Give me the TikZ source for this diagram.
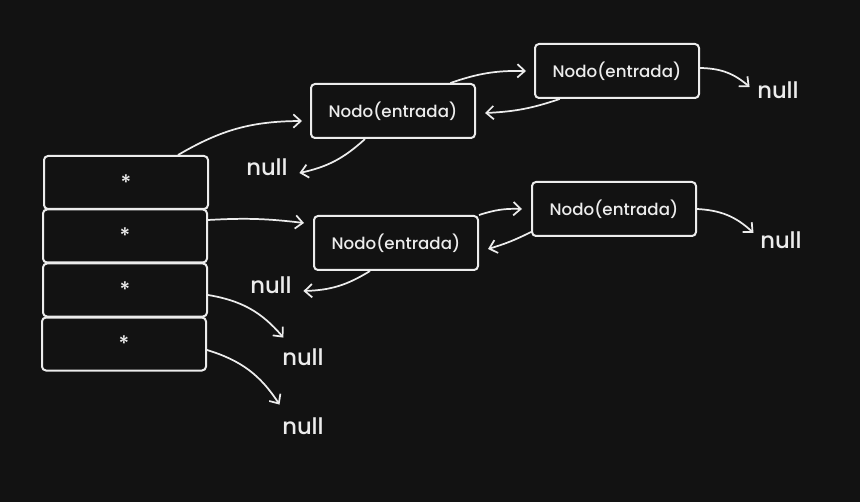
\documentclass[tikz,border=0pt]{standalone}
\usepackage{fontspec}
\setmainfont{Poppins Medium}
\usetikzlibrary{arrows.meta}

\definecolor{board}{HTML}{121212}
\definecolor{chalk}{HTML}{ECECEC}

\tikzset{
	cell/.style={draw=chalk, line width=1.5pt, rounded corners=3pt, minimum width=123pt, minimum height=39.75pt, text=chalk, font=\fontsize{16}{18}\selectfont},
	entry/.style={draw=chalk, line width=1.5pt, rounded corners=3pt, minimum width=123pt, minimum height=40.5pt, text=chalk, font=\fontsize{12.5}{14}\selectfont},
	nullword/.style={text=chalk, inner sep=0pt, font=\fontsize{17}{20}\selectfont},
	link/.style={draw=chalk, line width=1.3pt, -{Straight Barb[length=5.5pt,width=10pt]}},
}

\begin{document}
\begin{tikzpicture}[x=0.75pt, y=-0.75pt]

	% Background
	\fill[board] (0,0) rectangle (860,502);

	%% TABLE
	\foreach \i/\x/\y in {1/126/182.5, 2/125/236, 3/125/290, 4/124/344}
	{
		\node[cell] (c\i) at (\x,\y) {\raisebox{-1.5pt}{*}};
	}

	%% ENTRIES
	% First chain
	\node[entry] (A) at (393,111) {Nodo(entrada)};
	\node[entry] (B) at (617,71) {Nodo(entrada)};
	% Second chain
	\node[entry] (C) at (396,243) {Nodo(entrada)};
	\node[entry] (D) at (614,209) {Nodo(entrada)};

	% Null ends
	\node[nullword] (n1) at (267,167) {null};
	\node[nullword] (n2) at (778,90) {null};
	\node[nullword] (n3) at (271,285) {null};
	\node[nullword] (n4) at (781,240) {null};
	\node[nullword] (n5) at (303,357) {null};
	\node[nullword] (n6) at (303,426) {null};

	%% LINKS
	% First chain
	\draw[link] ([xshift=39pt]c1.north) to[bend left=15] ([xshift=-6pt,yshift=-7.5pt]A.west);
	\draw[link] ([xshift=43pt]A.north) to[bend left=10] ([xshift=-6pt]B.west);
	\draw[link] ([xshift=-43pt]B.south) to[bend left=8] ([xshift=6.75pt,yshift=-1.5pt]A.east);
	\draw[link] ([xshift=-21pt]A.south) to[bend left=15] ([xshift=8.6pt,yshift=-4.5pt]n1.east);
	\draw[link] ([yshift=2.25pt]B.east) to[bend left=20] ([xshift=-5.6pt,yshift=2.25pt]n2.west);

	% Second chain
	\draw[link] ([yshift=12pt]c2.east) to[bend left=5] ([xshift=-6.75pt,yshift=15pt]C.west);
	\draw[link] (C.north east) to[bend left=10] ([xshift=-6.75pt]D.west);
	\draw[link] ([yshift=3.75pt]D.south west) to[bend left=5] ([xshift=6.75pt,yshift=-4.5pt]C.east);
	\draw[link] ([xshift=-19.5pt]C.south) to[bend left=15] ([xshift=8.6pt,yshift=-4.5pt]n3.east);
	\draw[link] (D.east) to[bend left=20] ([xshift=-4.9pt,yshift=5.25pt]n4.west);

	% Empty slots
	\draw[link] ([yshift=-3.75pt]c3.east) to[bend left=20] ([xshift=1pt,yshift=8pt]n5.north west);
	\draw[link] ([yshift=-4.5pt]c4.east) to[bend left=20] ([xshift=-1.9pt,yshift=9.5pt]n6.north west);

\end{tikzpicture}
\end{document}
